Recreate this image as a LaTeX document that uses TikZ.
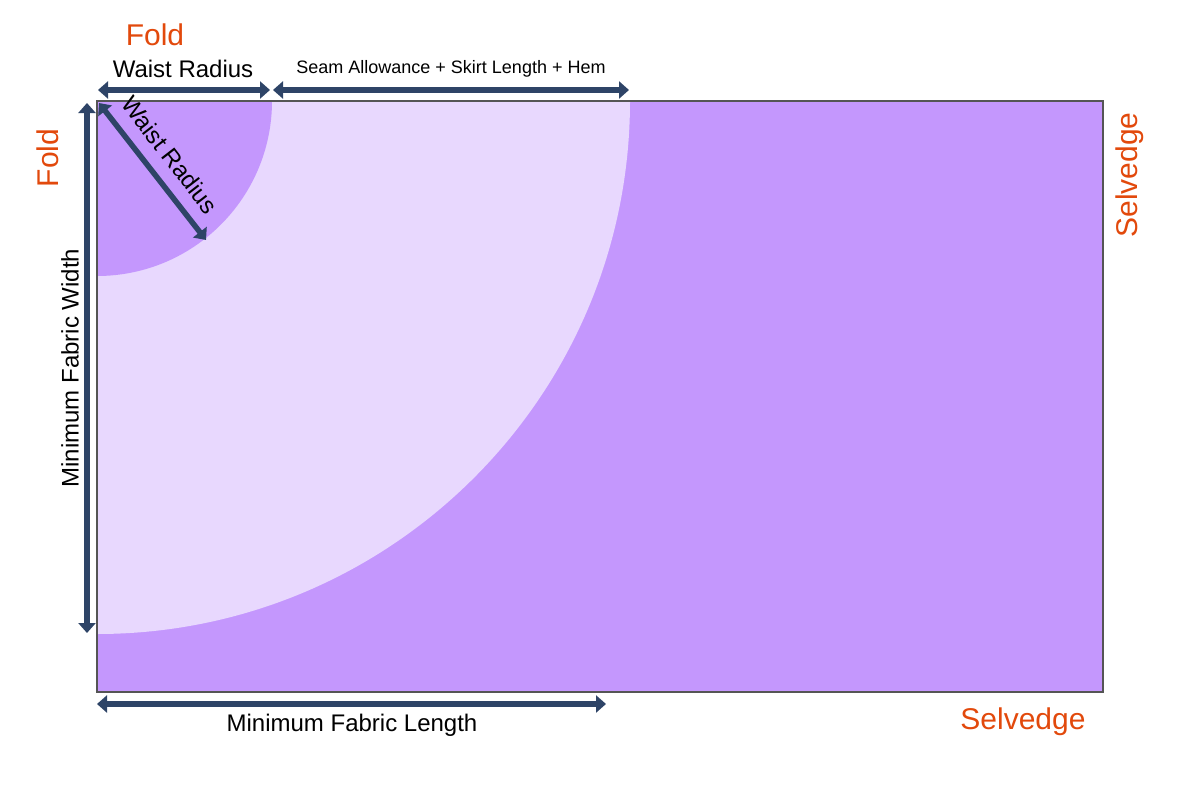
\documentclass[tikz,border=0pt]{standalone}
\usepackage{fontspec}
\setmainfont{Liberation Sans}
\usetikzlibrary{arrows.meta}
\definecolor{fabric}{HTML}{C497FD}
\definecolor{skirt}{HTML}{E8D8FE}
\definecolor{dim}{HTML}{2E4467}
\definecolor{note}{HTML}{E2490C}
\definecolor{edge}{HTML}{555555}
\tikzset{
  dimarrow/.style={draw=dim, line width=5.5pt, {Triangle[width=17pt,length=10pt]}-{Triangle[width=17pt,length=10pt]}},
  notelabel/.style={text=note, font=\fontsize{30}{36}\selectfont, inner sep=0pt},
  biglabel/.style={text=black, font=\fontsize{24}{29}\selectfont, inner sep=0pt},
  smalllabel/.style={text=black, font=\fontsize{18}{22}\selectfont, inner sep=0pt}
}
\begin{document}
\begin{tikzpicture}[x=1pt,y=-1pt]
\useasboundingbox (0,0) rectangle (1200,800);
% fabric
\fill[fabric] (97,101) rectangle (1103,692);
\fill[skirt] (97,101) -- (630,101) arc[start angle=0, end angle=-90, radius=533pt] -- cycle;
\fill[fabric] (97,101) -- (272,101) arc[start angle=0, end angle=-90, radius=175pt] -- cycle;
\draw[edge, line width=1.5pt] (97,101) rectangle (1103,692);
% coordinates
\coordinate (wrL) at (98,90);
\coordinate (wrR) at (270,90);
\coordinate (saL) at (273,90);
\coordinate (saR) at (629,90);
\coordinate (mwT) at (87,103);
\coordinate (mwB) at (87,633);
\coordinate (drA) at (99,103);
\coordinate (drB) at (206,240);
\coordinate (mlL) at (97,704);
\coordinate (mlR) at (606,704);
% arrows
\draw[dimarrow] (wrL) -- (wrR);
\draw[dimarrow] (saL) -- (saR);
\draw[dimarrow] (mwT) -- (mwB);
\draw[dimarrow] (drA) -- (drB);
\draw[dimarrow] (mlL) -- (mlR);
% labels
\node[notelabel] (foldtop) at (155,35) {Fold};
\node[notelabel, rotate=90] (foldleft) at (48,158) {Fold};
\node[notelabel, rotate=90] (selright) at (1130,175) {Selvedge};
\node[notelabel] (selbottom) at (1023,722) {Selvedge};
\node[biglabel] (wrtop) at (183,69) {Waist Radius};
\node[smalllabel] (satop) at (451,69) {Seam Allowance + Skirt Length + Hem};
\node[biglabel] (mlbottom) at (352,725) {Minimum Fabric Length};
\node[biglabel, rotate=90] (mwleft) at (70,368) {Minimum Fabric Width};
\node[biglabel, rotate=-52.3] (wrdiag) at (170,155) {Waist Radius};
\end{tikzpicture}
\end{document}
